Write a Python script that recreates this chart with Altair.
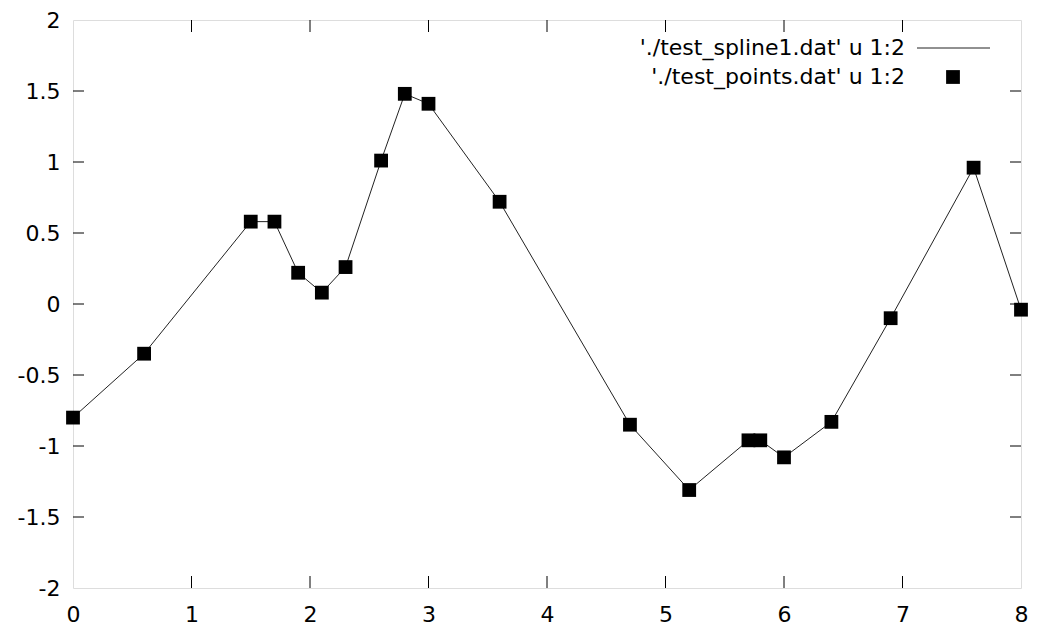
import altair as alt
import pandas as pd

xs = [0.0, 0.6, 1.5, 1.7, 1.9, 2.1, 2.3, 2.6, 2.8, 3.0, 3.6, 4.7, 5.2, 5.7, 5.8, 6.0, 6.4, 6.9, 7.6, 8.0]
ys = [-0.80, -0.35, 0.58, 0.58, 0.22, 0.08, 0.26, 1.01, 1.48, 1.41, 0.72, -0.85, -1.31, -0.96, -0.96, -1.08, -0.83, -0.10, 0.96, -0.04]
x_ticks = [0, 1, 2, 3, 4, 5, 6, 7, 8]
y_ticks = [-2, -1.5, -1, -0.5, 0, 0.5, 1, 1.5, 2]
legend_labels = ["'./test_spline1.dat' u 1:2", "'./test_points.dat' u 1:2"]

W, H = 948, 568
FONT = "DejaVu Sans"

df = pd.DataFrame({"x": xs, "y": ys})
xt = pd.DataFrame({"v": x_ticks[1:-1]})
yt = pd.DataFrame({"v": y_ticks[1:-1]})

xscale = alt.Scale(domain=[0, 8], nice=False, zero=False)
yscale = alt.Scale(domain=[-2, 2], nice=False, zero=False)

xaxis = alt.Axis(values=x_ticks, ticks=False, grid=False, domain=False, title=None,
                 labelFont=FONT, labelFontSize=22, labelColor="black", labelPadding=16,
                 labelFlush=False, labelExpr="'' + datum.value")
yaxis = alt.Axis(values=y_ticks, ticks=False, grid=False, domain=False, title=None,
                 labelFont=FONT, labelFontSize=22, labelColor="black", labelPadding=13,
                 labelFlush=False, labelExpr="'' + datum.value")

base = alt.Chart(df)
line = base.mark_line(color="#222222", strokeWidth=1).encode(
    x=alt.X("x:Q", scale=xscale, axis=xaxis),
    y=alt.Y("y:Q", scale=yscale, axis=yaxis),
)
pts = base.mark_square(size=190, color="black", opacity=1, filled=True).encode(
    x=alt.X("x:Q", scale=xscale),
    y=alt.Y("y:Q", scale=yscale),
)

tb = alt.Chart(xt).mark_rule(color="black", strokeWidth=1).encode(
    x=alt.X("v:Q", scale=xscale), y=alt.value(H), y2=alt.value(H - 12))
tt = alt.Chart(xt).mark_rule(color="black", strokeWidth=1).encode(
    x=alt.X("v:Q", scale=xscale), y=alt.value(0), y2=alt.value(12))
tl = alt.Chart(yt).mark_rule(color="black", strokeWidth=1).encode(
    y=alt.Y("v:Q", scale=yscale), x=alt.value(0), x2=alt.value(11))
tr = alt.Chart(yt).mark_rule(color="black", strokeWidth=1).encode(
    y=alt.Y("v:Q", scale=yscale), x=alt.value(W), x2=alt.value(W - 11))

leg_df = pd.DataFrame({"label": legend_labels, "row": [0, 1]})
leg_text1 = alt.Chart(leg_df).transform_filter("datum.row == 0").mark_text(
    align="right", baseline="middle", font=FONT, fontSize=22, color="black").encode(
    text="label:N", x=alt.value(832), y=alt.value(28))
leg_text2 = alt.Chart(leg_df).transform_filter("datum.row == 1").mark_text(
    align="right", baseline="middle", font=FONT, fontSize=22, color="black").encode(
    text="label:N", x=alt.value(832), y=alt.value(57))
leg_line = alt.Chart(leg_df).transform_filter("datum.row == 0").mark_rule(
    color="#222222", strokeWidth=1).encode(x=alt.value(844), x2=alt.value(917), y=alt.value(28))
leg_pt = alt.Chart(leg_df).transform_filter("datum.row == 1").mark_square(
    size=190, color="black", opacity=1, filled=True).encode(x=alt.value(880), y=alt.value(57))

chart = alt.layer(tb, tt, tl, tr, line, pts, leg_text1, leg_text2, leg_line, leg_pt).properties(
    width=W, height=H,
    autosize=alt.AutoSizeParams(type="none"),
    padding={"left": 65, "top": 12, "right": 10, "bottom": 42},
).configure_view(stroke="black", strokeWidth=1.2).configure(background="white")

chart.save("out.html", embed_options={"renderer": "svg", "actions": False})
